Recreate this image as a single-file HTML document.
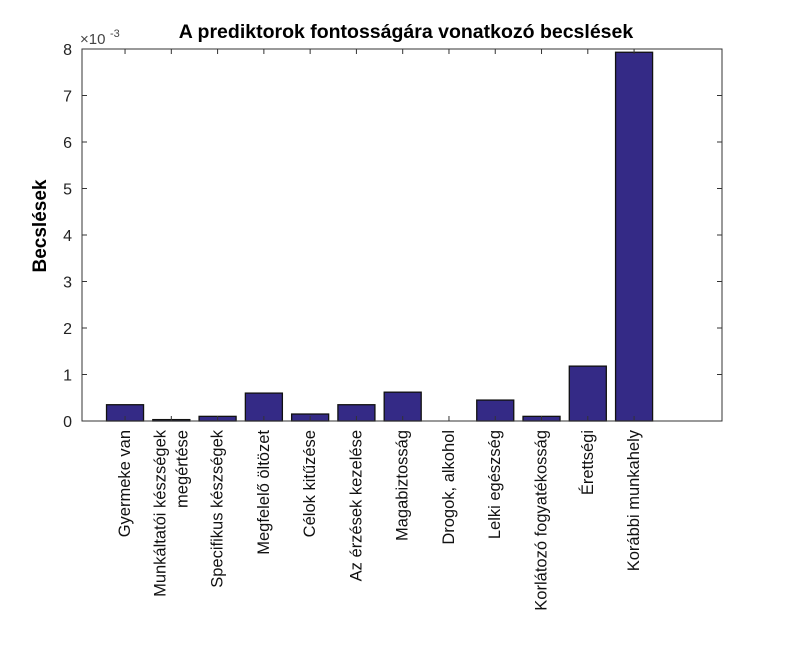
<!DOCTYPE html>
<html><head><meta charset="utf-8"><style>
body{margin:0;background:#fff;font-family:"Liberation Sans",Arial,sans-serif}
svg text{font-family:"Liberation Sans",Arial,sans-serif}
</style></head><body>
<svg width="799" height="641">
<rect width="799" height="641" fill="#fff"/>
<g id="g"></g>
</svg>
<script>
const categories=["Gyermeke van","Munkáltatói készségek|megértése","Specifikus készségek","Megfelelő öltözet","Célok kitűzése","Az érzések kezelése","Magabiztosság","Drogok, alkohol","Lelki egészség","Korlátozó fogyatékosság","Érettségi","Korábbi munkahely"];
const values=[0.35,0.03,0.1,0.6,0.15,0.35,0.62,0,0.45,0.1,1.18,7.93];
const yTicks=[0,1,2,3,4,5,6,7,8];
const L=82,R=722,T=49,B=421,XMIN=0.07,XMAX=13.9,YMAX=8;
const x=v=>L+(R-L)*(v-XMIN)/(XMAX-XMIN), y=v=>B-(B-T)*v/YMAX;
const NS="http://www.w3.org/2000/svg",g=document.getElementById('g');
function mk(t,a,txt){const e=document.createElementNS(NS,t);for(const k in a)e.setAttribute(k,a[k]);if(txt!=null)e.textContent=txt;g.appendChild(e);return e;}
const bw=(R-L)/(XMAX-XMIN)*0.8;
values.forEach((v,i)=>{
 const r=mk('rect',{x:x(i+1)-bw/2,y:y(v),width:bw,height:B-y(v),fill:'#342a86',stroke:'#111','stroke-width':1.3});
 
 
});
const ax=mk('rect',{x:L,y:T,width:R-L,height:B-T,fill:'none',stroke:'#333','stroke-width':1});


yTicks.forEach(t=>{
 mk('line',{x1:L,x2:L+5,y1:y(t),y2:y(t),stroke:'#333'});
 mk('line',{x1:R,x2:R-5,y1:y(t),y2:y(t),stroke:'#333'});
 const tx=mk('text',{x:L-10,y:y(t)+6,'text-anchor':'end','font-size':16,fill:'#222'},t);
 
 
});
categories.forEach((c,i)=>{
 const cx=x(i+1);
 mk('line',{x1:cx,x2:cx,y1:B,y2:B-5,stroke:'#333'});
 mk('line',{x1:cx,x2:cx,y1:T,y2:T+5,stroke:'#333'});
 const lines=c.split('|');
 lines.forEach((ln,j)=>{
  const off=(j-(lines.length-1)/2)*22;
  const tx=mk('text',{x:0,y:0,'text-anchor':'end','font-size':16.5,fill:'#111',transform:`translate(${cx+5+off},430) rotate(-90)`},ln);
  
  
 });
});
let e=mk('text',{x:80,y:44,'font-size':15,fill:'#444'},'×10');

e=mk('text',{x:110,y:37,'font-size':11,fill:'#444'},'-3');

e=mk('text',{x:406,y:38,'text-anchor':'middle','font-size':19.5,'font-weight':'bold',fill:'#000'},'A prediktorok fontosságára vonatkozó becslések');

e=mk('text',{x:0,y:0,'text-anchor':'middle','font-size':19,'font-weight':'bold',fill:'#000',transform:'translate(46,226) rotate(-90)'},'Becslések');

</script>
</body></html>
